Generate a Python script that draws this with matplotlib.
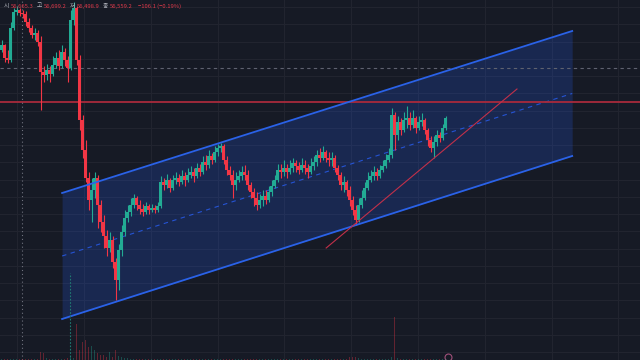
import numpy as np
import matplotlib.pyplot as plt

# candle closes / highs / lows (price), one candle per slot
closes = [56750, 56620, 56600, 56920, 57080, 57100, 57070, 57060, 56980, 56920,
          56850, 56870, 56780, 56480, 56450, 56500, 56460, 56550, 56620, 56540,
          56680, 56600, 56520, 57000, 57120, 56600, 56000, 55700, 55420, 55200,
          55300, 55420, 55150, 54980, 54840, 54720, 54800, 54580, 54400, 54700,
          54880, 55020, 55080, 55150, 55220, 55150, 55110, 55080, 55140, 55100,
          55120, 55100, 55140, 55380, 55350, 55400, 55320, 55400, 55420, 55380,
          55440, 55400, 55450, 55480, 55440, 55520, 55480, 55580, 55550, 55640,
          55600, 55680, 55720, 55740, 55600, 55500, 55450, 55350, 55400, 55440,
          55480, 55450, 55350, 55280, 55220, 55150, 55200, 55240, 55200, 55280,
          55340, 55400, 55500, 55480, 55520, 55480, 55520, 55570, 55540, 55500,
          55550, 55520, 55480, 55540, 55580, 55650, 55620, 55680, 55620, 55600,
          55620, 55520, 55450, 55350, 55380, 55300, 55200, 55100, 55000, 55150,
          55220, 55320, 55400, 55440, 55480, 55440, 55500, 55540, 55600, 55650,
          56050, 55850, 55980, 55900, 56000, 56020, 55950, 56020, 55920, 55980,
          56000, 55900, 55800, 55720, 55780, 55850, 55820, 55920, 56020]
highs = [56800, 56760, 56700, 56980, 57120, 57140, 57120, 57100, 57090, 57020,
         56950, 56920, 56900, 56840, 56540, 56560, 56540, 56640, 56680, 56700,
         56750, 56720, 56640, 57100, 57180, 57140, 56650, 56050, 55800, 55480,
         55420, 55480, 55450, 55200, 55050, 54900, 54880, 54840, 54620, 54760,
         54950, 55100, 55150, 55220, 55260, 55240, 55200, 55160, 55180, 55160,
         55160, 55150, 55180, 55440, 55420, 55460, 55420, 55450, 55480, 55460,
         55500, 55480, 55520, 55540, 55520, 55570, 55560, 55640, 55650, 55700,
         55670, 55740, 55760, 55770, 55760, 55640, 55540, 55500, 55480, 55500,
         55540, 55550, 55500, 55380, 55320, 55280, 55260, 55300, 55300, 55340,
         55400, 55450, 55560, 55560, 55600, 55560, 55600, 55620, 55600, 55580,
         55620, 55600, 55560, 55620, 55640, 55700, 55720, 55740, 55700, 55680,
         55680, 55650, 55550, 55480, 55440, 55400, 55340, 55240, 55150, 55220,
         55300, 55380, 55480, 55500, 55540, 55520, 55550, 55600, 55660, 55720,
         56120, 56080, 56040, 56020, 56080, 56140, 56080, 56100, 56040, 56040,
         56070, 56020, 55920, 55840, 55840, 55900, 55880, 55960, 56040]
lows = [56680, 56580, 56570, 56580, 56900, 57050, 57040, 57020, 56940, 56880,
        56820, 56800, 56740, 56100, 56380, 56400, 56380, 56440, 56520, 56500,
        56520, 56540, 56380, 56500, 56950, 56550, 55900, 55620, 55380, 55100,
        54980, 55220, 54920, 54880, 54720, 54640, 54680, 54520, 54200, 54300,
        54640, 54840, 54980, 55040, 55120, 55100, 55060, 55040, 55060, 55060,
        55080, 55070, 55080, 55120, 55300, 55320, 55280, 55300, 55360, 55340,
        55360, 55340, 55380, 55420, 55380, 55420, 55440, 55460, 55500, 55520,
        55560, 55580, 55640, 55680, 55560, 55450, 55400, 55220, 55300, 55380,
        55400, 55400, 55300, 55220, 55140, 55100, 55120, 55140, 55160, 55180,
        55240, 55320, 55380, 55420, 55440, 55420, 55460, 55480, 55480, 55460,
        55480, 55460, 55420, 55460, 55500, 55540, 55580, 55600, 55580, 55540,
        55540, 55480, 55400, 55300, 55280, 55240, 55140, 55050, 54950, 54980,
        55120, 55200, 55300, 55380, 55400, 55400, 55420, 55480, 55520, 55580,
        55620, 55700, 55800, 55850, 55880, 55920, 55900, 55920, 55870, 55900,
        55940, 55860, 55740, 55680, 55620, 55740, 55780, 55800, 55900]
first_open = 56700
volumes = [1, 1, 1, 1, 1, 1, 1, 1, 1, 1,
           1, 1, 1, 8, 7, 2, 1, 1, 1, 1,
           1, 1, 2, 3, 2, 36, 10, 18, 20, 13,
           14, 10, 7, 5, 5, 3, 8, 3, 10, 4,
           3, 2, 2, 1, 1, 1, 1, 1, 1, 1,
           1, 1, 1, 1, 1, 1, 1, 1, 1, 1,
           1, 1, 1, 1, 1, 1, 1, 1, 1, 1,
           1, 1, 1, 1, 1, 1, 1, 1, 1, 1,
           1, 1, 1, 1, 1, 1, 1, 1, 1, 1,
           1, 1, 1, 1, 1, 1, 1, 1, 1, 1,
           1, 1, 1, 1, 1, 1, 1, 1, 1, 1,
           1, 1, 1, 1, 1, 1, 3, 3, 3, 2,
           1, 1, 1, 1, 1, 1, 1, 1, 1, 1,
           3, 43, 2, 1, 1, 1, 1, 1, 1, 1,
           1, 1, 1, 1, 1, 1, 1, 1, 1]

# drawings (candle index, price)
channel_x = [20.2, 190.2]
channel_top = [55270, 56890]
channel_bottom = [54010, 55640]
trend_x = [108.2, 171.8]
trend_y = [54720, 56310]
red_level = 56180
last_price_level = 56520
marker_x = 6.8

legend_labels = ["시", "고", "저", "종"]
legend_values = ["56,665.3", "56,699.2", "56,498.9", "56,559.2"]
legend_change = "−106.1 (−0.19%)"

bg = "#161a25"
up, down = "#22ab94", "#f23645"

closes = np.array(closes, float)
opens = np.concatenate([[first_open], closes[:-1]])
highs = np.maximum(np.array(highs, float), np.maximum(opens, closes))
lows = np.minimum(np.array(lows, float), np.minimum(opens, closes))
x = np.arange(len(closes))
colors = np.where(closes >= opens, up, down)

fig = plt.figure(figsize=(6.4, 3.6), dpi=100, facecolor=bg)
ax = fig.add_axes([0, 0, 1, 1], facecolor=bg)
ax.set_xlim(-0.5, 212.8)
ax.set_ylim(53600, 57200)

# grid
for gy in 57130 - 172.5 * np.arange(0, 22):
    ax.axhline(gy, color="#21242f", lw=0.8, zorder=0)
for gx in (np.arange(17.2, 640, 66.8) - 1.5) / 3:
    ax.axvline(gx, color="#21242f", lw=0.8, zorder=0)

# volume on its own scale
vax = ax.twinx()
vax.set_ylim(0, 360)
vax.bar(x, volumes, width=0.4, color=colors, alpha=0.35, zorder=1)
vax.axis("off")
vax.vlines(22.8, 0, 87, color="#1f7a72", lw=0.8, linestyles=(0, (1.5, 1.5)))

# channel
ax.fill_between(channel_x, channel_bottom, channel_top, color="#2962ff", alpha=0.2, lw=0, zorder=1)
ax.plot(channel_x, channel_top, color="#2a62e8", lw=1.3, zorder=4)
ax.plot(channel_x, channel_bottom, color="#2a62e8", lw=1.3, zorder=4)
mid = [(a + b) / 2 for a, b in zip(channel_top, channel_bottom)]
ax.plot(channel_x, mid, color="#2962ff", lw=0.8, alpha=0.75, ls=(0, (4, 4)), zorder=2)

# price levels
ax.axhline(last_price_level, color="#5f6270", lw=0.8, ls=(0, (3, 3)), zorder=2)
ax.axhline(red_level, color="#a82a3c", lw=1.3, zorder=2)
ax.axvline(marker_x, color="#6f727e", lw=0.8, ls=(0, (1, 2.5)), zorder=2)

# candles
ax.vlines(x, lows, highs, color=colors, lw=0.8, zorder=3)
ax.bar(x, closes - opens, bottom=opens, width=0.75, color=colors, lw=0, zorder=3)

# trend line
ax.plot(trend_x, trend_y, color="#c2304a", lw=0.8, zorder=5)

# legend text
fam = ["Noto Sans CJK KR", "DejaVu Sans"]
lab_x = [4, 37, 70, 103]
val_x = [11, 44, 77, 110]
for lab, val, lx, vx in zip(legend_labels, legend_values, lab_x, val_x):
    fig.text(lx / 640, 1 - 6 / 360, lab, color="#b2b5be", fontsize=4.2, va="center", family=fam)
    fig.text(vx / 640, 1 - 6 / 360, val, color="#e0394a", fontsize=4.2, va="center", family=fam)
fig.text(138 / 640, 1 - 6 / 360, legend_change, color="#e0394a", fontsize=4.2, va="center", family=fam)

ax.plot([448 / 640], [1 - 357 / 360], "o", mfc="none", mec="#a0507a", ms=5, mew=0.8,
        transform=fig.transFigure, clip_on=False, zorder=6)

ax.axis("off")
fig.savefig("out.png", dpi=100, facecolor=bg)
